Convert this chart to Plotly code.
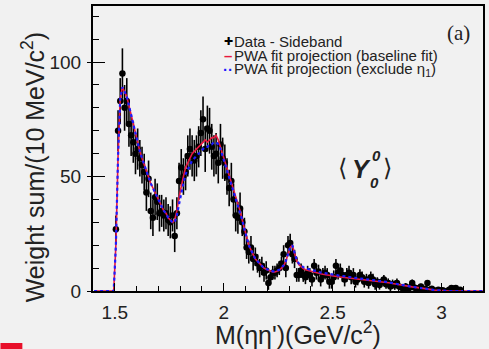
import plotly.graph_objects as go

# ---------------- data (10 MeV bins) ----------------
data_start = 1.505
bin_width = 0.01
data_vals = [
    27, 70, 83, 95, 80, 83, 73, 68, 65, 60,
    62, 58, 55, 52, 43, 49, 35, 32, 41, 39,
    34, 35, 33, 34, 31, 30, 33, 24, 34, 48,
    54, 50, 52, 59, 62, 59, 57, 59, 63, 69,
    75, 62, 71, 70, 63, 59, 60, 56, 64, 58,
    56, 50, 45, 48, 40, 33, 32, 36, 30, 26,
    19, 17, 19, 14, 15, 12, 10, 11, 8, 9,
    3.5, 6, 8, 8, 9, 10, 12, 16, 10, 20,
    21, 16, 14, 7, 7, 9, 7, 6, 8, 7,
    5, 11, 8, 8.5, 5, 7, 8, 7, 4, 4,
    6, 11, 8, 9, 7, 5, 7, 8, 6, 7,
    4, 5, 7, 6, 4, 5, 3.5, 6, 5, 3,
    4, 2.6, 4, 5, 3, 3.5, 2, 3, 2.5, 3.5,
    2, 1.5, 1, 2, 0.8, 1.5, 3.5, 1.5, 1, 1.2,
    2, 0.5, 1, 3.5, 0.5, 1, 0.3, -0.5, 0.5, 0.2,
    0.3, -0.3, 0, 0.5, 1.3, 1, 1.3, 0.3, 0.5,
]
data_errs = [
    6, 9, 10, 11, 10, 10, 10, 9, 9, 9,
    9, 8, 8, 8, 8, 8, 8, 8, 8, 8,
    8, 7, 7, 7, 7, 7, 7, 7, 7, 8,
    8, 8, 8, 9, 9, 9, 9, 9, 9, 10,
    10, 10, 10, 10, 10, 9, 9, 9, 9, 9,
    8, 8, 8, 8, 7, 7, 7, 7, 6, 6,
    5, 5, 5, 5, 4, 4, 4, 4, 4, 4,
    3, 3, 3, 3, 3, 3, 3, 4, 4, 4,
    4, 4, 4, 3, 3, 3, 3, 3, 3, 3,
    3, 3, 3, 3, 3, 3, 3, 3, 3, 3,
    3, 3, 3, 3, 3, 3, 3, 3, 3, 3,
    2.5, 2.5, 2.5, 2.5, 2.5, 2.5, 2.5, 2.5, 2.5, 2.5,
    2, 2, 2, 2, 2, 2, 2, 2, 2, 2,
    1.5, 1.5, 1.5, 1.5, 1.5, 1.5, 1.5, 1.5, 1.5, 1.5,
    1.2, 1.2, 1.2, 1.2, 1.2, 1, 1, 1, 1, 1,
    1, 1, 1, 1, 1, 1, 1, 0.8, 0.8,
]

fit_start = 1.405
fit_baseline = [
    0, 0, 0, 0, 0, 0, 0, 0, 0, 0,
    20, 59, 84, 89, 87, 85, 81, 77, 73, 68,
    65, 61, 58, 55, 53, 50, 47, 45, 43, 41,
    39, 37, 35, 34, 32, 31, 30, 31, 35, 41,
    46, 50, 54, 56, 58, 60, 61, 62, 63, 64,
    65, 66, 65, 66, 67, 67, 68, 66, 63, 60,
    57, 54, 51, 47, 44, 41, 38, 35, 31, 27,
    23, 20, 18, 16, 14, 13, 12, 11, 10, 9.5,
    9, 8.5, 8.3, 8.3, 8.5, 9, 10, 11, 13, 16,
    19, 20, 17, 13, 11.5, 10.5, 9.8, 9.3, 9, 8.7,
    8.4, 8.1, 7.9, 7.7, 7.5, 7.3, 7.1, 6.9, 6.7, 6.5,
    6.4, 6.3, 6.2, 6.1, 6.0, 5.9, 5.8, 5.6, 5.5, 5.3,
    5.2, 5.1, 5.0, 4.9, 4.8, 4.7, 4.6, 4.5, 4.4, 4.3,
    4.2, 4.1, 4.0, 3.9, 3.8, 3.6, 3.5, 3.3, 3.1, 2.9,
    2.7, 2.5, 2.3, 2.1, 2.0, 1.9, 1.8, 1.7, 1.6, 1.5,
    1.4, 1.3, 1.2, 1.0, 0.8, 0.6, 0.4, 0.3, 0.2, 0.1,
    0, 0, 0, 0, 0, 0, 0, 0, 0, 0,
    0, 0, 0, 0, 0, 0, 0, 0, 0, 0,
]
fit_exclude = [
    0, 0, 0, 0, 0, 0, 0, 0, 0, 0,
    20, 59, 84, 89, 87, 85, 81, 77, 73, 68,
    65, 61, 58, 55, 53, 50, 47, 45, 43, 41,
    39, 37, 35, 34, 32, 31, 30, 30, 33, 38,
    43, 47, 51, 53, 55, 57, 58, 59, 60, 61,
    62, 63, 63, 64, 64, 65, 65, 64, 62, 59,
    56, 53, 50, 47, 44, 41, 38, 35, 31, 27,
    23, 20, 18, 16, 14, 13, 12, 11, 10, 9.6,
    9.2, 8.8, 8.6, 8.6, 8.8, 9.3, 10.2, 11.2, 13, 16,
    19, 20, 17, 13.5, 12, 11, 10.4, 9.9, 9.6, 9.3,
    9.0, 8.7, 8.5, 8.3, 8.1, 7.9, 7.7, 7.5, 7.3, 7.1,
    7.0, 6.9, 6.8, 6.7, 6.5, 6.4, 6.3, 6.1, 6.0, 5.8,
    5.7, 5.6, 5.5, 5.3, 5.2, 5.1, 5.0, 4.9, 4.8, 4.7,
    4.6, 4.4, 4.3, 4.1, 4.0, 3.8, 3.6, 3.4, 3.2, 3.0,
    2.7, 2.5, 2.3, 2.1, 2.0, 1.9, 1.8, 1.7, 1.6, 1.5,
    1.4, 1.3, 1.2, 1.0, 0.8, 0.6, 0.4, 0.3, 0.2, 0.1,
    0, 0, 0, 0, 0, 0, 0, 0, 0, 0,
    0, 0, 0, 0, 0, 0, 0, 0, 0, 0,
]

x_tickvals = [1.5, 2, 2.5, 3]
x_ticktext = ["1.5", "2", "2.5", "3"]
y_tickvals = [0, 50, 100]
y_ticktext = ["0", "50", "100"]

mass = [round(data_start + i * bin_width, 4) for i in range(len(data_vals))]
fit_mass = [round(fit_start + i * bin_width, 4) for i in range(len(fit_baseline))]

X_RANGE = [1.4, 3.19]
Y_RANGE = [0, 124.5]
FONT = "Liberation Sans, Arial, sans-serif"
TXT = "#222222"
BG = "#f1f1f1"
RED = "#e8173f"
BLUE = "#1c1cff"

# plot area in pixels: x 93..485, y 6..291
def px(xp):
    return (xp - 93) / 392

def py(yp):
    return (291 - yp) / 285

fig = go.Figure()

fig.add_trace(go.Scatter(
    x=mass, y=data_vals, mode="markers",
    marker=dict(color="black", size=6.5),
    error_y=dict(type="data", array=data_errs, color="black", thickness=1.6, width=0),
    showlegend=False, hoverinfo="skip",
))
fig.add_trace(go.Scatter(
    x=fit_mass, y=fit_baseline, mode="lines",
    line=dict(color=RED, width=1.6),
    showlegend=False, hoverinfo="skip",
))
fig.add_trace(go.Scatter(
    x=fit_mass, y=fit_exclude, mode="lines",
    line=dict(color=BLUE, width=2.2, dash="dot"),
    showlegend=False, hoverinfo="skip",
))
# invisible trace to anchor the outer tick axis
fig.add_trace(go.Scatter(
    x=mass, y=data_vals, mode="markers", yaxis="y2",
    marker=dict(opacity=0), showlegend=False, hoverinfo="skip",
))

fig.update_layout(
    width=489, height=349,
    margin=dict(l=93, r=4, t=6, b=58),
    paper_bgcolor=BG, plot_bgcolor=BG,
    font=dict(family=FONT, color=TXT),
    xaxis=dict(
        range=X_RANGE, showgrid=False, zeroline=False,
        showline=True, linecolor="black", linewidth=2, mirror=True,
        ticks="inside", ticklen=8, tickwidth=1, tickcolor="black",
        tickvals=x_tickvals, ticktext=x_ticktext,
        minor=dict(dtick=0.1, ticks="inside", ticklen=5, tickcolor="black", showgrid=False),
        tickfont=dict(size=19, family=FONT, color=TXT),
        ticklabelstandoff=3,
    ),
    yaxis=dict(
        range=Y_RANGE, showgrid=False, zeroline=False,
        showline=True, linecolor="black", linewidth=2, mirror=True,
        ticks="inside", ticklen=12, tickwidth=1, tickcolor="black",
        tickvals=y_tickvals, ticktext=y_ticktext,
        minor=dict(dtick=10, ticks="inside", ticklen=6, tickcolor="black", showgrid=False),
        tickfont=dict(size=19, family=FONT, color=TXT),
        ticklabelstandoff=6,
    ),
    yaxis2=dict(
        range=Y_RANGE, overlaying="y", side="left", showgrid=False, zeroline=False,
        showline=False, ticks="outside", ticklen=5, tickwidth=1, tickcolor="black",
        tickvals=y_tickvals, showticklabels=False,
    ),
)

# axis titles
fig.add_annotation(xref="paper", yref="paper", x=px(299), y=py(333),
                   text="M(ηη')(GeV/c<sup>2</sup>)", showarrow=False,
                   xanchor="center", yanchor="middle",
                   font=dict(size=25, family=FONT, color=TXT))
fig.add_annotation(xref="paper", yref="paper", x=px(33), y=py(167),
                   text="Weight sum/(10 MeV/c<sup>2</sup>)", showarrow=False, textangle=-90,
                   xanchor="center", yanchor="middle",
                   font=dict(size=25, family=FONT, color=TXT))

# legend drawn as annotations
leg_font = dict(size=15, family=FONT, color=TXT)
legend_rows = [
    ("✚", "black", 11, "Data - Sideband", 41),
    ("<b>–</b>", RED, 15, "PWA fit projection (baseline fit)", 55.5),
    ("<b>··</b>", BLUE, 15, "PWA fit projection (exclude η<sub>1</sub>)", 69),
]
for sym, col, ssize, txt, yrow in legend_rows:
    fig.add_annotation(xref="paper", yref="paper", x=px(229), y=py(yrow),
                       xanchor="center", yanchor="middle", showarrow=False,
                       text=sym, font=dict(size=ssize, family=FONT, color=col))
    fig.add_annotation(xref="paper", yref="paper", x=px(233), y=py(yrow),
                       xanchor="left", yanchor="middle", showarrow=False,
                       text=txt, font=leg_font)

fig.add_annotation(xref="paper", yref="paper", x=px(460), y=py(33),
                   text="(a)", showarrow=False, xanchor="center", yanchor="middle",
                   font=dict(size=21, family="Liberation Serif, Times New Roman, serif", color=TXT))

# <Y^0_0> label
lab_font = dict(size=24, family="DejaVu Sans, sans-serif", color=TXT)
fig.add_annotation(xref="paper", yref="paper", x=px(344), y=py(168),
                   text="⟨", showarrow=False, xanchor="center", yanchor="middle", font=lab_font)
fig.add_annotation(xref="paper", yref="paper", x=px(363), y=py(169),
                   text="<b><i>Y</i></b>", showarrow=False, xanchor="center", yanchor="middle",
                   font=dict(size=25, family=FONT, color=TXT))
fig.add_annotation(xref="paper", yref="paper", x=px(378), y=py(155),
                   text="<b><i>0</i></b>", showarrow=False, xanchor="center", yanchor="middle",
                   font=dict(size=15, family=FONT, color=TXT))
fig.add_annotation(xref="paper", yref="paper", x=px(376), y=py(183),
                   text="<b><i>0</i></b>", showarrow=False, xanchor="center", yanchor="middle",
                   font=dict(size=15, family=FONT, color=TXT))
fig.add_annotation(xref="paper", yref="paper", x=px(389), y=py(168),
                   text="⟩", showarrow=False, xanchor="center", yanchor="middle", font=lab_font)

# small red mark in the bottom-left corner of the picture
fig.add_shape(type="rect", xref="paper", yref="paper",
              x0=px(0), x1=px(22), y0=py(349), y1=py(343),
              fillcolor="#e8102a", line=dict(width=0), layer="above")

fig.write_html("out.html")
